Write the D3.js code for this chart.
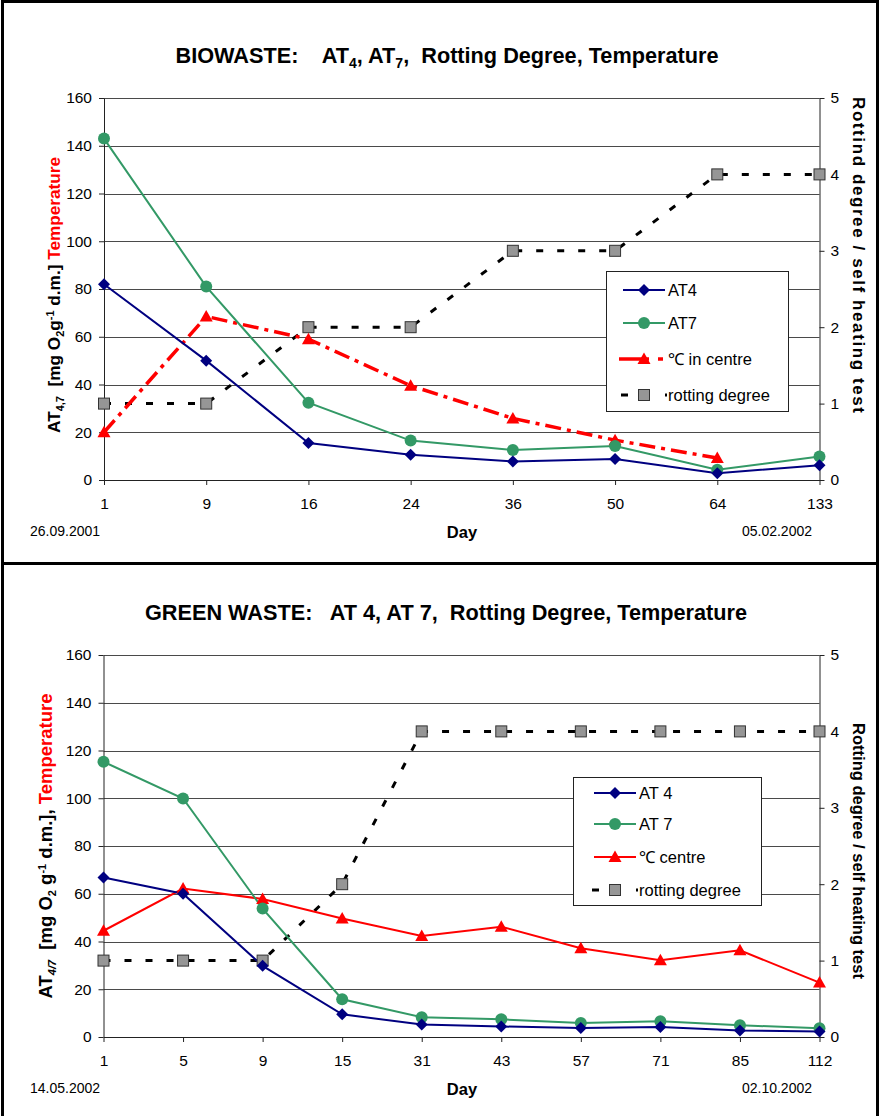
<!DOCTYPE html>
<html><head><meta charset="utf-8">
<script src="https://cdn.jsdelivr.net/npm/d3@7"></script>
<style>
body{margin:0;background:#fff;}
svg text{font-family:"Liberation Sans",Arial,sans-serif;white-space:pre;}
</style></head>
<body><svg id="c" width="880" height="1116"></svg>
<script>
// ---------- DATA: panel 1 (Biowaste) ----------
const bioDays = ["1","9","16","24","36","50","64","133"];
const bioAT4 = [82, 50, 15.5, 10.6, 7.8, 8.8, 2.8, 6.2];
const bioAT7 = [143, 81, 32.4, 16.5, 12.6, 14.2, 4.3, 9.8];
const bioTemp = [20, 68.5, 59, 39.5, 25.8, 16.7, 9.2, null];
const bioRot = [1, 1, 2, 2, 3, 3, 4, 4];
// ---------- DATA: panel 2 (Green waste) ----------
const grnDays = ["1","5","9","15","31","43","57","71","85","112"];
const grnAT4 = [66.8, 60, 29.8, 9.5, 5.2, 4.4, 3.8, 4.2, 2.7, 2.3];
const grnAT7 = [115.3, 99.9, 53.8, 15.8, 8.3, 7.4, 5.9, 6.6, 4.9, 3.7];
const grnTemp = [44.5, 62.2, 57.8, 49.6, 42.3, 46.2, 37.2, 32.1, 36.3, 22.8];
const grnRot = [1, 1, 1, 2, 4, 4, 4, 4, 4, 4];
// ---------- tick labels ----------
const leftTicks = [0,20,40,60,80,100,120,140,160];
const rightTicks = [0,1,2,3,4,5];

const svg = d3.select("#c");
const C_AT4="#000080", C_AT7="#339966", C_RED="#ff0000";

// frame
svg.append("rect").attr("x",2.5).attr("y",1.5).attr("width",875).attr("height",1130)
  .attr("fill","none").attr("stroke","#000").attr("stroke-width",3);
svg.append("line").attr("x1",2).attr("x2",878).attr("y1",563.5).attr("y2",563.5)
  .attr("stroke","#000").attr("stroke-width",3);

const diamond = "M0,-6L6,0L0,6L-6,0Z";
const triangle = "M0,-6.5L6.5,5L-6.5,5Z";

function panel(o){
  const g = svg.append("g");
  const x = d3.scalePoint().domain(o.days).range([o.x0,o.x1]).padding(0);
  const yL = d3.scaleLinear().domain([0,160]).range([o.yb,o.yt]);
  const yR = d3.scaleLinear().domain([0,5]).range([o.yb,o.yt]);
  // gridlines
  g.append("g").selectAll("line").data(leftTicks.filter(d=>d>0)).join("line")
    .attr("x1",o.x0).attr("x2",o.x1)
    .attr("y1",d=>Math.round(yL(d))+0.5).attr("y2",d=>Math.round(yL(d))+0.5)
    .attr("stroke","#4a4a4a").attr("stroke-width",1);
  // axes
  const ax = g.append("g").attr("transform",`translate(0,${o.yb})`)
    .call(d3.axisBottom(x).tickSize(5).tickPadding(13).tickSizeOuter(0));
  const al = g.append("g").attr("transform",`translate(${o.x0},0)`)
    .call(d3.axisLeft(yL).tickValues(leftTicks).tickSize(5).tickPadding(7).tickSizeOuter(0));
  const ar = g.append("g").attr("transform",`translate(${o.x1},0)`)
    .call(d3.axisRight(yR).tickValues(rightTicks).tickFormat(d3.format("d")).tickSize(5).tickPadding(6).tickSizeOuter(0));
  [ax,al,ar].forEach(a=>{
    a.selectAll("text").attr("font-size",15.5).attr("fill","#000")
      .attr("font-family","Liberation Sans, Arial, sans-serif");
    a.selectAll("line,path").attr("stroke","#222");
  });
  // series
  const line = (ys,scale)=>d3.line().defined(d=>d!=null)
    .x((d,i)=>x(o.days[i])).y(d=>scale(d))(ys);
  g.append("path").attr("d",line(o.rot,yR)).attr("fill","none")
    .attr("stroke","#000").attr("stroke-width",3).attr("stroke-dasharray","7,14");
  g.append("path").attr("d",line(o.temp,yL)).attr("fill","none")
    .attr("stroke",C_RED).attr("stroke-width",o.tempDash?3.5:2)
    .attr("stroke-dasharray",o.tempDash?"16,6,4,6":null);
  g.append("path").attr("d",line(o.at7,yL)).attr("fill","none").attr("stroke",C_AT7).attr("stroke-width",2);
  g.append("path").attr("d",line(o.at4,yL)).attr("fill","none").attr("stroke",C_AT4).attr("stroke-width",2);
  // markers
  g.append("g").selectAll("rect").data(o.rot).join("rect")
    .attr("x",(d,i)=>x(o.days[i])-5.5).attr("y",d=>yR(d)-5.5).attr("width",11).attr("height",11)
    .attr("fill","#969696").attr("stroke","#333").attr("stroke-width",1);
  g.append("g").selectAll("path").data(o.temp.map((d,i)=>[i,d]).filter(p=>p[1]!=null)).join("path")
    .attr("d",triangle).attr("transform",p=>`translate(${x(o.days[p[0]])},${yL(p[1])})`).attr("fill",C_RED);
  g.append("g").selectAll("circle").data(o.at7).join("circle")
    .attr("cx",(d,i)=>x(o.days[i])).attr("cy",d=>yL(d)).attr("r",6).attr("fill",C_AT7);
  g.append("g").selectAll("path").data(o.at4).join("path")
    .attr("d",diamond).attr("transform",(d,i)=>`translate(${x(o.days[i])},${yL(d)})`).attr("fill",C_AT4);
  // title
  const t = g.append("text").attr("x",o.titleX).attr("y",o.titleY).attr("text-anchor","middle")
    .attr("font-size",21.7).attr("font-weight","bold");
  o.title.forEach(s=>{
    const ts=t.append("tspan").text(s[0]);
    if(s[1]==="sub") ts.attr("font-size",14).attr("dy",5);
    if(s[1]==="back") ts.attr("dy",-5);
  });
  // left y title
  const lt = g.append("text").attr("transform",`translate(${o.lyX},${o.lyY}) rotate(-90)`)
    .attr("text-anchor","middle").attr("font-size",o.lyFs).attr("font-weight","bold");
  o.ylab.forEach(s=>{
    const ts = lt.append("tspan").text(s.t);
    if(s.fs) ts.attr("font-size",s.fs);
    if(s.dy) ts.attr("dy",s.dy);
    if(s.fill) ts.attr("fill",s.fill);
    if(s.it) ts.attr("font-style","italic");
  });
  // right title
  const rt = g.append("text").attr("transform",`translate(${o.ryX},${o.ryY}) rotate(90)`)
    .attr("text-anchor","middle").attr("font-size",o.ryFs).attr("font-weight","bold").text(o.rlab);
  if(o.ryLen) rt.attr("textLength",o.ryLen).attr("lengthAdjust","spacing");
  // x title & dates
  g.append("text").attr("x",462).attr("y",o.yb+58).attr("text-anchor","middle")
    .attr("font-size",16.5).attr("font-weight","bold").text("Day");
  g.append("text").attr("x",30).attr("y",o.yb+56).attr("font-size",14).text(o.d0);
  g.append("text").attr("x",812).attr("y",o.yb+56).attr("text-anchor","end").attr("font-size",14).text(o.d1);
  // legend
  const L = o.leg;
  const lg = g.append("g");
  lg.append("rect").attr("x",L.x+0.5).attr("y",L.y+0.5).attr("width",L.w).attr("height",L.h)
    .attr("fill","#fff").attr("stroke","#222").attr("stroke-width",1);
  const sx0=L.sx0, sx1=L.sx1, mx=(sx0+sx1)/2;
  L.rows.forEach((r,i)=>{
    const yy=L.ys[i];
    if(r.k==="at4"){
      lg.append("line").attr("x1",sx0).attr("x2",sx1).attr("y1",yy).attr("y2",yy).attr("stroke",C_AT4).attr("stroke-width",2);
      lg.append("path").attr("d",diamond).attr("transform",`translate(${mx},${yy})`).attr("fill",C_AT4);
    } else if(r.k==="at7"){
      lg.append("line").attr("x1",sx0).attr("x2",sx1).attr("y1",yy).attr("y2",yy).attr("stroke",C_AT7).attr("stroke-width",2);
      lg.append("circle").attr("cx",mx).attr("cy",yy).attr("r",6).attr("fill",C_AT7);
    } else if(r.k==="temp"){
      if(o.tempDash){
        lg.append("line").attr("x1",sx0-4).attr("x2",mx+5).attr("y1",yy).attr("y2",yy).attr("stroke",C_RED).attr("stroke-width",3.5);
        lg.append("line").attr("x1",sx1-7).attr("x2",sx1-2).attr("y1",yy).attr("y2",yy).attr("stroke",C_RED).attr("stroke-width",3.5);
      } else {
        lg.append("line").attr("x1",sx0).attr("x2",sx1).attr("y1",yy).attr("y2",yy).attr("stroke",C_RED).attr("stroke-width",2);
      }
      lg.append("path").attr("d",triangle).attr("transform",`translate(${mx},${yy})`).attr("fill",C_RED);
    } else {
      lg.append("line").attr("x1",sx0-2).attr("x2",sx0+5).attr("y1",yy).attr("y2",yy).attr("stroke","#000").attr("stroke-width",3);
      lg.append("line").attr("x1",sx1).attr("x2",sx1+2).attr("y1",yy).attr("y2",yy).attr("stroke","#000").attr("stroke-width",3);
      lg.append("rect").attr("x",mx-5.5).attr("y",yy-5.5).attr("width",11).attr("height",11)
        .attr("fill","#969696").attr("stroke","#333");
    }
    lg.append("text").attr("x",L.tx).attr("y",yy+6).attr("font-size",16.5).text(r.t);
  });
}

panel({
  days:bioDays, at4:bioAT4, at7:bioAT7, temp:bioTemp, rot:bioRot, tempDash:true,
  x0:104, x1:819.5, yt:98, yb:480,
  title:[["BIOWASTE:    AT"],["4","sub"],[", AT","back"],["7","sub"],[",  Rotting Degree, Temperature","back"]],
  titleX:447, titleY:63,
  ylab:[{t:"AT"},{t:"4,7",fs:11,dy:4},{t:"  [mg O",dy:-4},{t:"2",fs:11,dy:4},{t:"g",dy:-4},{t:"-1",fs:11,dy:-6},{t:" d.m.] ",dy:6},{t:"Temperature",fill:C_RED}],
  lyX:60, lyY:295, lyFs:17.2,
  rlab:"Rottind degree / self heating test", ryX:853, ryY:255, ryFs:17, ryLen:316,
  d0:"26.09.2001", d1:"05.02.2002",
  leg:{x:606,y:271,w:182,h:140,sx0:623,sx1:665,tx:668,ys:[290,323,359,395],
    rows:[{k:"at4",t:"AT4"},{k:"at7",t:"AT7"},{k:"temp",t:"\u2103 in centre"},{k:"rot",t:"rotting degree"}]}
});

panel({
  days:grnDays, at4:grnAT4, at7:grnAT7, temp:grnTemp, rot:grnRot, tempDash:false,
  x0:103.5, x1:819.5, yt:655, yb:1037,
  title:[["GREEN WASTE:   AT 4, AT 7,  Rotting Degree, Temperature"]],
  titleX:446, titleY:620,
  ylab:[{t:"AT"},{t:"4/7",fs:11,dy:4,it:true},{t:"  [mg O",dy:-4},{t:"2",fs:11,dy:4},{t:" g",dy:-4},{t:"-1",fs:11,dy:-6},{t:" d.m.], ",dy:6},{t:"Temperature",fill:C_RED}],
  lyX:52, lyY:846, lyFs:18.5,
  rlab:"Rotting degree / self heating test", ryX:853, ryY:851, ryFs:16.5,
  d0:"14.05.2002", d1:"02.10.2002",
  leg:{x:573,y:777,w:188,h:128,sx0:594,sx1:636,tx:639,ys:[793,824,857,890],
    rows:[{k:"at4",t:"AT 4"},{k:"at7",t:"AT 7"},{k:"temp",t:"\u2103 centre"},{k:"rot",t:"rotting degree"}]}
});
</script></body></html>
